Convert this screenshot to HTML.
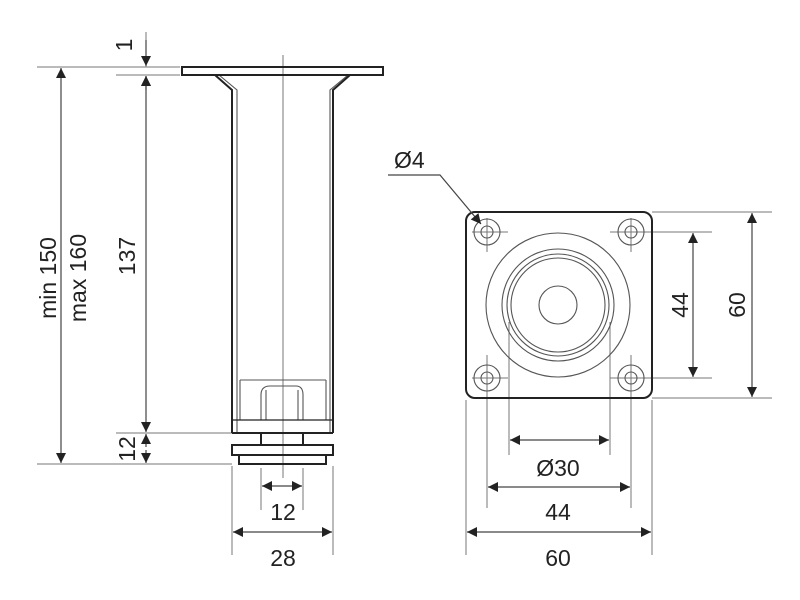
<!DOCTYPE html>
<html><head><style>body{margin:0;background:#fff}svg{display:block}text{font-family:"Liberation Sans",Arial,sans-serif;fill:#222}</style></head><body>
<svg width="800" height="600" viewBox="0 0 800 600" xmlns="http://www.w3.org/2000/svg">
<defs>
<marker id="a" viewBox="0 0 10 10" refX="10" refY="5" markerWidth="13" markerHeight="10" markerUnits="userSpaceOnUse" orient="auto-start-reverse"><path d="M0,0 L10,5 L0,10 z" fill="#222"/></marker>
</defs>
<g stroke="#777" stroke-width="1" fill="none">
<line x1="37" y1="67" x2="180" y2="67"/>
<line x1="116" y1="75" x2="180" y2="75"/>
<line x1="116" y1="433" x2="232" y2="433"/>
<line x1="37" y1="464" x2="232" y2="464"/>
<line x1="146" y1="32" x2="146" y2="67"/>
<line x1="283" y1="55" x2="283" y2="478"/>
<line x1="232" y1="466" x2="232" y2="555"/>
<line x1="333" y1="466" x2="333" y2="555"/>
<line x1="261" y1="468" x2="261" y2="510"/>
<line x1="303" y1="468" x2="303" y2="510"/>
<line x1="652" y1="212" x2="772" y2="212"/>
<line x1="652" y1="398" x2="772" y2="398"/>
<line x1="612" y1="232" x2="712" y2="232"/>
<line x1="612" y1="378" x2="712" y2="378"/>
<line x1="466" y1="400" x2="466" y2="555"/>
<line x1="652" y1="400" x2="652" y2="555"/>
<line x1="487" y1="355" x2="487" y2="508"/>
<line x1="631" y1="355" x2="631" y2="508"/>
<line x1="509" y1="322" x2="509" y2="455"/>
<line x1="610" y1="322" x2="610" y2="455"/>
<line x1="472" y1="232" x2="508" y2="232"/><line x1="487" y1="218" x2="487" y2="252"/>
<line x1="610" y1="232" x2="645" y2="232"/><line x1="631" y1="218" x2="631" y2="252"/>
<line x1="472" y1="378" x2="508" y2="378"/><line x1="487" y1="358" x2="487" y2="392"/>
<line x1="610" y1="378" x2="645" y2="378"/><line x1="631" y1="358" x2="631" y2="392"/>
</g>
<g stroke="#555" stroke-width="1.1" fill="none">
<circle cx="558" cy="305" r="72"/>
<circle cx="558" cy="305" r="56"/>
<circle cx="558" cy="305" r="51"/>
<circle cx="558" cy="305" r="47"/>
<circle cx="558" cy="305" r="19"/>
<circle cx="487" cy="232" r="13"/><circle cx="487" cy="232" r="6"/>
<circle cx="631" cy="232" r="13"/><circle cx="631" cy="232" r="6"/>
<circle cx="487" cy="378" r="13"/><circle cx="487" cy="378" r="6"/>
<circle cx="631" cy="378" r="13"/><circle cx="631" cy="378" r="6"/>
<polyline points="219,75 237,90 237,433"/>
<polyline points="348,75 330,90 330,433"/>
<line x1="240" y1="380" x2="326" y2="380"/>
<line x1="240" y1="380" x2="240" y2="420"/>
<line x1="326" y1="380" x2="326" y2="420"/>
<path d="M261,420 V395 Q261,386 270,386 H296 Q303,386 303,395 V420"/>
<line x1="266" y1="390" x2="266" y2="420"/>
<line x1="298" y1="390" x2="298" y2="420"/>
</g>
<g stroke="#222" stroke-width="2" fill="none">
<rect x="182" y="67" width="201" height="8"/>
<polyline points="215,75 232,90 232,433"/>
<polyline points="350,75 333,90 333,433"/>
<line x1="232" y1="420" x2="333" y2="420" stroke-width="1.2"/>
<line x1="232" y1="433" x2="333" y2="433"/>
<rect x="261" y="433" width="42" height="12"/>
<rect x="232" y="445" width="101" height="10"/>
<rect x="239" y="455" width="87" height="9"/>
<rect x="466" y="212" width="186" height="186" rx="9"/>
</g>
<g stroke="#444" stroke-width="1.2" fill="none">
<line x1="61" y1="68" x2="61" y2="463" marker-start="url(#a)" marker-end="url(#a)"/>
<line x1="146" y1="76" x2="146" y2="432" marker-start="url(#a)" marker-end="url(#a)"/>
<line x1="146" y1="40" x2="146" y2="66" marker-end="url(#a)"/>
<line x1="146" y1="90" x2="146" y2="76" marker-end="url(#a)"/>
<line x1="146" y1="447" x2="146" y2="434" marker-end="url(#a)"/>
<line x1="146" y1="450" x2="146" y2="463" marker-end="url(#a)"/>
<line x1="262" y1="486" x2="302" y2="486" marker-start="url(#a)" marker-end="url(#a)"/>
<line x1="233" y1="532" x2="332" y2="532" marker-start="url(#a)" marker-end="url(#a)"/>
<line x1="510" y1="440" x2="609" y2="440" marker-start="url(#a)" marker-end="url(#a)"/>
<line x1="488" y1="487" x2="630" y2="487" marker-start="url(#a)" marker-end="url(#a)"/>
<line x1="467" y1="532" x2="651" y2="532" marker-start="url(#a)" marker-end="url(#a)"/>
<line x1="693" y1="233" x2="693" y2="377" marker-start="url(#a)" marker-end="url(#a)"/>
<line x1="752" y1="213" x2="752" y2="397" marker-start="url(#a)" marker-end="url(#a)"/>
<polyline points="388,175 440,175 481,224" marker-end="url(#a)"/>
</g>
<g font-size="23">
<text x="283" y="520" text-anchor="middle">12</text>
<text x="283" y="566" text-anchor="middle">28</text>
<text x="558" y="476" text-anchor="middle">Ø30</text>
<text x="558" y="520" text-anchor="middle">44</text>
<text x="558" y="566" text-anchor="middle">60</text>
<text x="394" y="168">Ø4</text>
<text transform="translate(132,45) rotate(-90)" text-anchor="middle">1</text>
<text transform="translate(135,256) rotate(-90)" text-anchor="middle">137</text>
<text transform="translate(135,449) rotate(-90)" text-anchor="middle">12</text>
<text transform="translate(56,278) rotate(-90)" text-anchor="middle">min 150</text>
<text transform="translate(86,278) rotate(-90)" text-anchor="middle">max 160</text>
<text transform="translate(688,305) rotate(-90)" text-anchor="middle">44</text>
<text transform="translate(745,305) rotate(-90)" text-anchor="middle">60</text>
</g>
</svg>
</body></html>
